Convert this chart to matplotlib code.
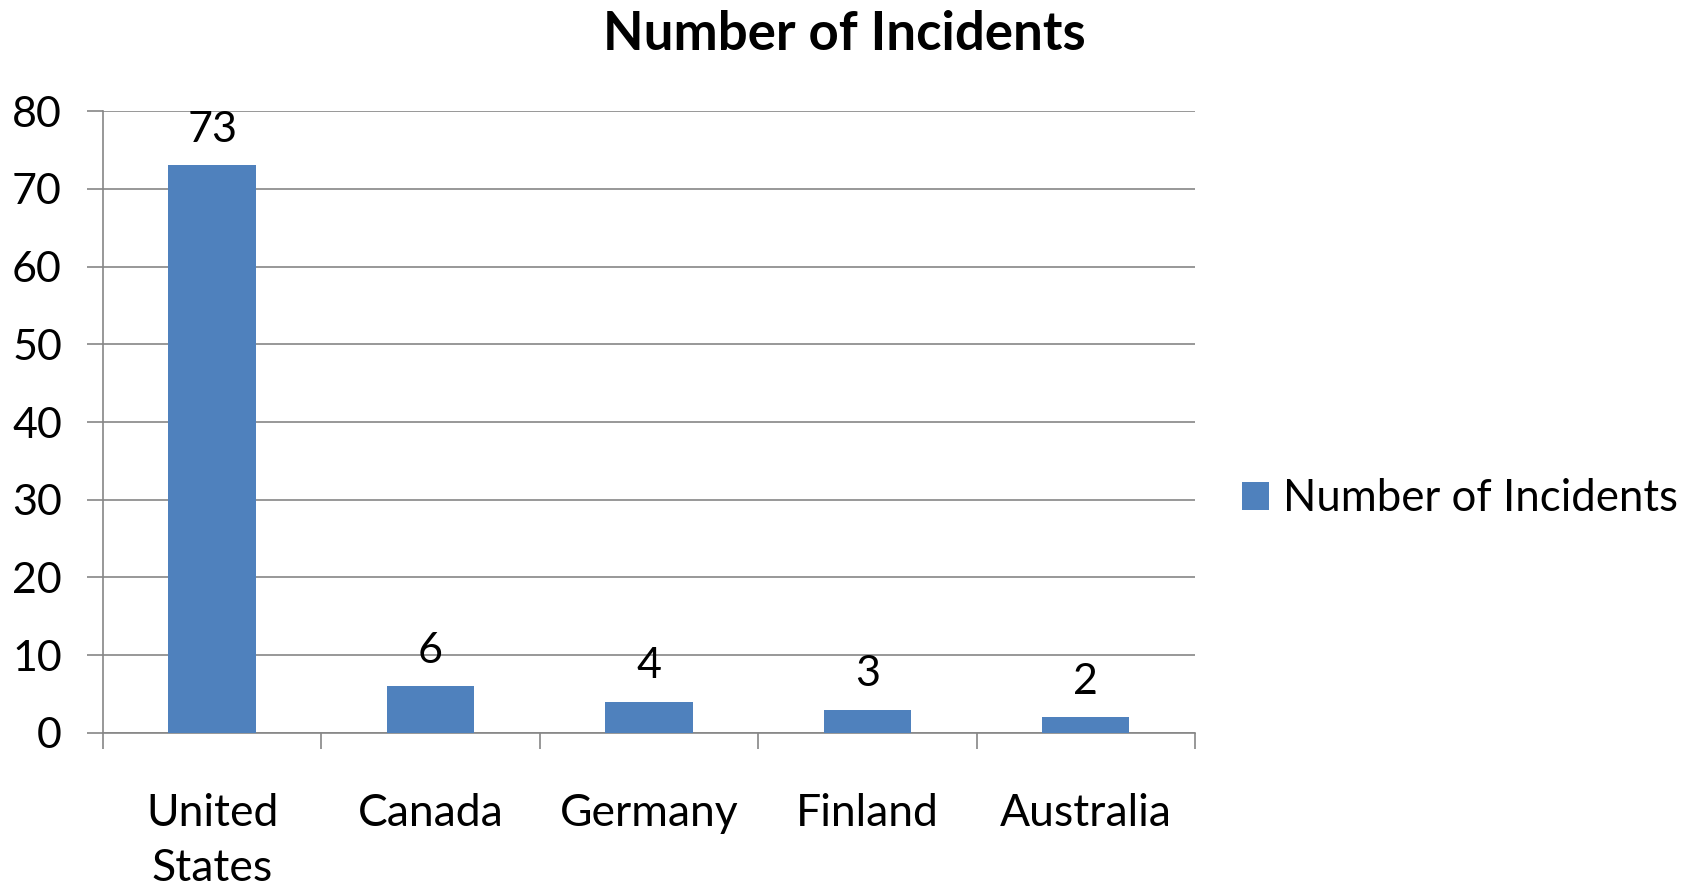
import matplotlib.pyplot as plt
import numpy as np

# incidents per country
paises = ["United\nStates", "Canada", "Germany", "Finland", "Australia"]
incidentes = [73, 6, 4, 3, 2]
yticks = [0, 10, 20, 30, 40, 50, 60, 70, 80]

AZUL = "#4F81BD"
GRIS = "#868686"

plt.rcParams["font.family"] = ["Lato", "DejaVu Sans"]

fig = plt.figure(figsize=(17.04, 8.86), dpi=100)
ax = fig.add_axes([0.0604, 0.1727, 0.6409, 0.7020])

x = np.arange(len(paises))
barras = ax.bar(x, incidentes, width=0.4, color=AZUL, label="Number of Incidents", zorder=3)

# etiquetas de valor sobre cada barra
for xi, v in zip(x, incidentes):
    ax.annotate(str(v), (xi, v), xytext=(0, 12), textcoords="offset points",
                ha="center", va="bottom", fontsize=31)

ax.set_xlim(-0.5, len(paises) - 0.5)
ax.set_ylim(0, 80)
ax.set_yticks(yticks)
ax.set_yticklabels([str(t) for t in yticks], fontsize=31)
ax.yaxis.grid(True, color=GRIS, linewidth=1.2, zorder=0)

# las marcas del eje x van entre categorias
ax.set_xticks(np.arange(-0.5, len(paises), 1.0))
ax.set_xticklabels([])
ax.set_xticks(x, minor=True)
ax.set_xticklabels(paises, minor=True, fontsize=32, linespacing=1.42, va="top")
ax.tick_params(axis="x", which="major", length=11.5, width=1.2, color=GRIS, direction="out")
ax.tick_params(axis="x", which="minor", length=0, pad=43)
ax.tick_params(axis="y", length=11.5, width=1.2, color=GRIS, direction="out", pad=18)

for lado in ["top", "right"]:
    ax.spines[lado].set_visible(False)
for lado in ["left", "bottom"]:
    ax.spines[lado].set_color(GRIS)
    ax.spines[lado].set_linewidth(1.2)

fig.text(0.4953, 0.961, "Number of Incidents", ha="center", va="center",
         fontsize=38, fontweight="bold")

fig.legend(handles=[barras], loc="center left", bbox_to_anchor=(0.706, 0.437),
           frameon=False, fontsize=31.5, handlelength=0.6, handleheight=0.6,
           handletextpad=0.32)

fig.savefig("out.png", dpi=100)
